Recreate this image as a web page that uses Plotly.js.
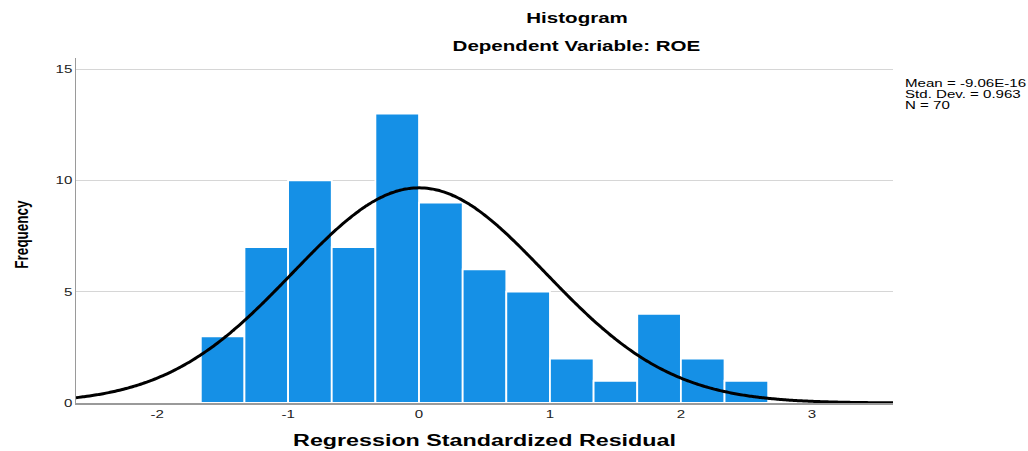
<!DOCTYPE html>
<html>
<head>
<meta charset="utf-8">
<script src="https://cdn.plot.ly/plotly-3.0.1.min.js"></script>
<style>html,body{margin:0;padding:0;background:#fff;}#chart{width:1028px;height:451px;}</style>
</head>
<body>
<div id="chart"></div>
<script>
// Histogram bins (left edges, width 1/3) and frequencies
const binLeft = [-5/3, -4/3, -1, -2/3, -1/3, 0, 1/3, 2/3, 1, 4/3, 5/3, 2, 7/3];
const binWidth = 1/3;
const frequency = [3, 7, 10, 7, 13, 9, 6, 5, 2, 1, 4, 2, 1];

// Stated statistics of the residuals
const statMean = -9.06e-16;
const statSD = 0.963;
const statN = 70;
const statLabels = ["Mean = -9.06E-16", "Std. Dev. = 0.963", "N = 70"];

const xTicks = [-2, -1, 0, 1, 2, 3];
const yTicks = [0, 5, 10, 15];
const xRange = [-2.62, 3.62];

const binCenter = binLeft.map(v => v + binWidth / 2);

// Normal curve scaled to counts from the stated mean, sd and N
const curveX = [];
const curveY = [];
const steps = 300;
for (let i = 0; i <= steps; i++) {
  const x = xRange[0] + (xRange[1] - xRange[0]) * i / steps;
  const z = (x - statMean) / statSD;
  curveX.push(x);
  curveY.push(statN * binWidth * Math.exp(-0.5 * z * z) / (statSD * Math.sqrt(2 * Math.PI)));
}

const font = "Liberation Sans, Arial, sans-serif";

const data = [
  {
    type: "bar",
    x: binCenter,
    y: frequency,
    width: binWidth,
    marker: {color: "#1590e6", line: {color: "#ffffff", width: 1.8}},
    hoverinfo: "x+y",
    showlegend: false
  },
  {
    type: "scatter",
    mode: "lines",
    x: curveX,
    y: curveY,
    line: {color: "#000000", width: 3, shape: "spline"},
    hoverinfo: "skip",
    showlegend: false
  }
];

const annotations = [
  {text: "<b>Histogram</b>", xref: "paper", yref: "paper", x: 0.613, y: 1, yshift: 58 - 17, xanchor: "center", yanchor: "middle", showarrow: false, font: {family: font, size: 15, color: "#000"}},
  {text: "<b>Dependent Variable: ROE</b>", xref: "paper", yref: "paper", x: 0.613, y: 1, yshift: 58 - 45, xanchor: "center", yanchor: "middle", showarrow: false, font: {family: font, size: 15, color: "#000"}}
];
statLabels.forEach((t, i) => {
  annotations.push({text: t, xref: "paper", yref: "paper", x: 1, xshift: 903 - 893, y: 1, yshift: 58 - (82.5 + 11 * i), xanchor: "left", yanchor: "middle", showarrow: false, font: {family: font, size: 11, color: "#000"}});
});

const layout = {
  width: 1028,
  height: 451,
  margin: {l: 76, r: 135, t: 58, b: 48},
  paper_bgcolor: "#ffffff",
  plot_bgcolor: "#ffffff",
  bargap: 0,
  showlegend: false,
  xaxis: {
    range: xRange,
    tickvals: xTicks,
    ticktext: xTicks.map(String),
    showgrid: false,
    zeroline: false,
    showline: true,
    linecolor: "#9a9a9a",
    linewidth: 1.5,
    ticks: "",
    tickfont: {family: font, size: 11, color: "#222"},
    title: {text: "<b>Regression Standardized Residual</b>", font: {family: font, size: 17, color: "#000"}, standoff: 15}
  },
  yaxis: {
    range: [0, 15.5],
    tickvals: yTicks,
    ticktext: yTicks.map(String),
    showgrid: true,
    gridcolor: "#d6d6d6",
    gridwidth: 1,
    zeroline: false,
    showline: true,
    linecolor: "#9a9a9a",
    linewidth: 1.5,
    ticks: "",
    tickfont: {family: font, size: 11, color: "#222"},
    title: {text: "<b>Frequency</b>", font: {family: font, size: 13.5, color: "#000"}, standoff: 30}
  },
  annotations: annotations
};

// The reference's text is drawn horizontally stretched; reproduce that look.
const STRETCH = 1.37;
function stretchTexts(gd) {
  const texts = gd.querySelectorAll(".main-svg text");
  texts.forEach(el => {
    const content = el.textContent || "";
    if (!content.trim()) return;
    const r = el.getBoundingClientRect();
    let sx;
    if (el.closest(".ytick")) sx = r.right;
    else if (/^(Mean|Std|N =)/.test(content)) sx = r.left;
    else sx = r.left + r.width / 2;
    const m = el.parentNode.getScreenCTM();
    const px = (sx - m.e) / m.a;
    let dy = 0;
    if (content === "Frequency") dy = 4 / m.d;
    const existing = el.getAttribute("transform") || "";
    el.setAttribute("transform", `translate(${px},${dy}) scale(${STRETCH},1) translate(${-px},0) ${existing}`);
  });
}

Plotly.newPlot("chart", data, layout, {staticPlot: true, displayModeBar: false}).then(stretchTexts);
</script>
</body>
</html>
